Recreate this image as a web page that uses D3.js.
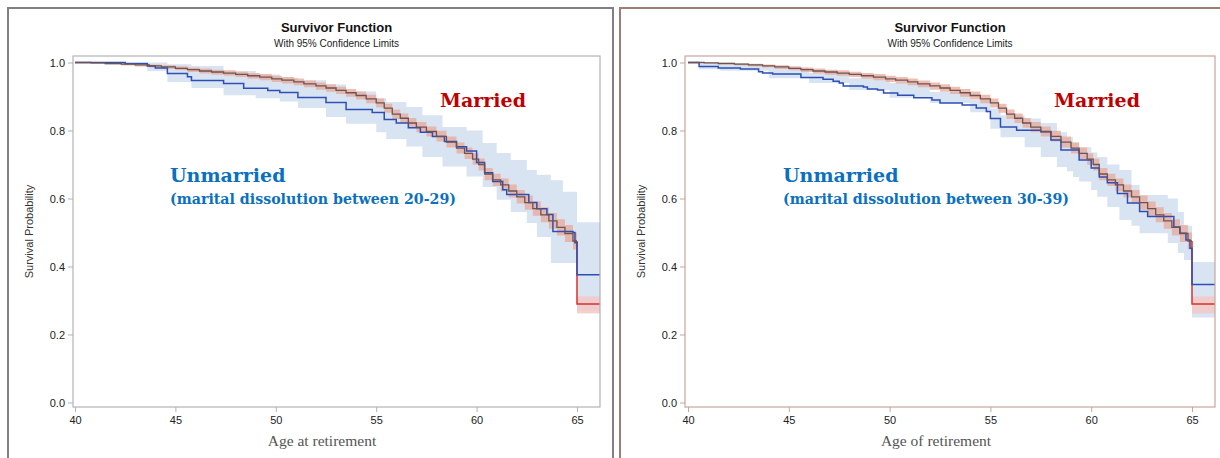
<!DOCTYPE html>
<html>
<head>
<meta charset="utf-8">
<script src="https://cdn.jsdelivr.net/npm/d3@7"></script>
<style>
  body { margin: 0; background: #fff; }
  svg { display: block; }
</style>
</head>
<body>
<svg id="chart" width="1220" height="458"></svg>
<script>
const ageTicks = [40, 45, 50, 55, 60, 65];
const survTicks = [0, 0.2, 0.4, 0.6, 0.8, 1.0];
const AGE_END = 66.15;

// married group, same in both panels: [age, survival, lower, upper]
const married = [
  [40.0, 1.000, 0.998, 1.000], [40.8, 0.999, 0.996, 1.000], [41.5, 0.997, 0.994, 0.999],
  [42.3, 0.995, 0.991, 0.998], [43.0, 0.993, 0.988, 0.996], [43.7, 0.990, 0.985, 0.994],
  [44.3, 0.987, 0.981, 0.992], [45.0, 0.983, 0.977, 0.989], [45.6, 0.979, 0.972, 0.985],
  [46.2, 0.975, 0.968, 0.982], [46.8, 0.972, 0.964, 0.979], [47.4, 0.969, 0.961, 0.977],
  [48.0, 0.965, 0.957, 0.973], [48.6, 0.961, 0.952, 0.969], [49.2, 0.957, 0.948, 0.966],
  [49.8, 0.952, 0.943, 0.961], [50.3, 0.948, 0.938, 0.957], [50.9, 0.943, 0.933, 0.953],
  [51.4, 0.937, 0.927, 0.947], [52.0, 0.931, 0.920, 0.941], [52.5, 0.925, 0.914, 0.936],
  [53.0, 0.918, 0.907, 0.929], [53.5, 0.911, 0.899, 0.922], [54.0, 0.903, 0.891, 0.915],
  [54.5, 0.893, 0.880, 0.905], [55.0, 0.881, 0.868, 0.894], [55.4, 0.866, 0.852, 0.879],
  [55.8, 0.848, 0.834, 0.862], [56.2, 0.836, 0.822, 0.850], [56.6, 0.822, 0.808, 0.837],
  [57.0, 0.810, 0.795, 0.825], [57.5, 0.797, 0.782, 0.812], [58.0, 0.783, 0.768, 0.799],
  [58.5, 0.766, 0.750, 0.782], [59.0, 0.748, 0.732, 0.765], [59.4, 0.733, 0.716, 0.750],
  [59.8, 0.716, 0.699, 0.733], [60.1, 0.700, 0.682, 0.718], [60.4, 0.672, 0.654, 0.690],
  [60.8, 0.655, 0.637, 0.673], [61.2, 0.640, 0.621, 0.659], [61.6, 0.622, 0.603, 0.641],
  [62.0, 0.605, 0.585, 0.625], [62.4, 0.588, 0.567, 0.609], [62.8, 0.570, 0.549, 0.591],
  [63.2, 0.552, 0.530, 0.574], [63.6, 0.534, 0.511, 0.557], [64.0, 0.515, 0.491, 0.539],
  [64.4, 0.497, 0.472, 0.522], [64.8, 0.475, 0.450, 0.500], [65.0, 0.290, 0.262, 0.312],
  [AGE_END, 0.290, 0.262, 0.312]
];

// unmarried, marital dissolution between 20-29: [age, survival]
const unmarried2029 = [
  [40.0, 1.000], [42.5, 0.997], [43.6, 0.990], [44.0, 0.984], [44.6, 0.968],
  [45.6, 0.958], [45.8, 0.947], [47.4, 0.938], [48.4, 0.924], [49.6, 0.918],
  [50.2, 0.912], [51.1, 0.897], [52.5, 0.882], [53.5, 0.862], [54.8, 0.853],
  [55.4, 0.832], [56.0, 0.822], [56.6, 0.808], [57.2, 0.795], [57.8, 0.782],
  [58.4, 0.768], [59.0, 0.752], [59.5, 0.740], [60.0, 0.706], [60.4, 0.676],
  [60.8, 0.650], [61.3, 0.626], [61.5, 0.612], [62.6, 0.588], [63.0, 0.570],
  [63.5, 0.553], [63.8, 0.503], [64.8, 0.500], [64.9, 0.470], [65.0, 0.376],
  [AGE_END, 0.376]
];
// [age, lower, upper]
const band2029 = [
  [40.0, 1.000, 1.000], [43.6, 0.975, 1.000], [44.6, 0.943, 0.995], [45.8, 0.925, 0.990],
  [47.4, 0.904, 0.975], [49.0, 0.895, 0.965], [50.2, 0.885, 0.955], [51.1, 0.866, 0.948],
  [52.5, 0.840, 0.935], [53.5, 0.820, 0.915], [55.0, 0.795, 0.895], [55.5, 0.775, 0.884],
  [56.5, 0.753, 0.869], [57.3, 0.722, 0.845], [58.3, 0.694, 0.810], [59.5, 0.665, 0.800],
  [60.3, 0.634, 0.763], [61.0, 0.596, 0.734], [61.7, 0.560, 0.713], [62.5, 0.528, 0.684],
  [63.0, 0.487, 0.670], [63.7, 0.410, 0.654], [64.3, 0.410, 0.620], [65.0, 0.270, 0.530],
  [AGE_END, 0.270, 0.530]
];

// unmarried, marital dissolution between 30-39
const unmarried3039 = [
  [40.0, 1.000], [40.55, 0.988], [41.5, 0.984], [42.6, 0.981], [43.5, 0.973],
  [43.7, 0.969], [44.2, 0.966], [45.6, 0.956], [46.7, 0.951], [47.2, 0.945],
  [47.5, 0.940], [47.7, 0.931], [48.7, 0.928], [48.9, 0.922], [49.4, 0.919],
  [49.7, 0.910], [50.4, 0.904], [51.2, 0.896], [52.1, 0.890], [52.5, 0.881],
  [53.6, 0.875], [54.3, 0.866], [54.8, 0.856], [55.0, 0.835], [55.5, 0.810],
  [56.3, 0.801], [57.5, 0.796], [58.0, 0.772], [58.5, 0.743], [59.4, 0.713],
  [60.0, 0.690], [60.4, 0.663], [60.8, 0.646], [61.3, 0.615], [61.8, 0.587],
  [62.4, 0.562], [62.8, 0.547], [64.1, 0.516], [64.4, 0.498], [64.7, 0.478],
  [64.9, 0.454], [65.0, 0.347], [AGE_END, 0.347]
];
const band3039 = [
  [40.0, 1.000, 1.000], [40.55, 0.980, 0.996], [41.6, 0.976, 0.993], [44.0, 0.954, 0.985],
  [46.0, 0.940, 0.970], [48.0, 0.919, 0.954], [50.0, 0.896, 0.940], [52.0, 0.881, 0.913],
  [54.0, 0.854, 0.890], [55.0, 0.805, 0.865], [55.5, 0.780, 0.845], [56.7, 0.751, 0.835],
  [57.5, 0.722, 0.822], [58.3, 0.693, 0.795], [58.8, 0.680, 0.780], [59.1, 0.663, 0.765],
  [59.4, 0.650, 0.751], [60.0, 0.625, 0.735], [60.3, 0.605, 0.722], [60.8, 0.575, 0.700],
  [61.4, 0.537, 0.684], [62.0, 0.520, 0.640], [62.4, 0.498, 0.610], [63.8, 0.469, 0.600],
  [64.3, 0.440, 0.560], [64.6, 0.419, 0.520], [65.0, 0.250, 0.413], [AGE_END, 0.250, 0.413]
];

const panels = [
  {
    frame: { x: 8, y: 8, w: 605, h: 470, color: "#808080" },
    plot: { left: 73, right: 600, top: 56, bottom: 407 },
    range: [75, 577],
    axisColor: "#b3b3b3",
    line: unmarried2029,
    band: band2029,
    xLabel: "Age at retirement",
    groupText: "(marital dissolution between 20-29)",
    marriedX: 440,
    unmarriedX: 170,
    yLabelX: 29
  },
  {
    frame: { x: 620, y: 8, w: 610, h: 470, color: "#9d7f72" },
    plot: { left: 685, right: 1215, top: 56, bottom: 407 },
    range: [688, 1192],
    axisColor: "#c9a59c",
    line: unmarried3039,
    band: band3039,
    xLabel: "Age of retirement",
    groupText: "(marital dissolution between 30-39)",
    marriedX: 1054,
    unmarriedX: 783,
    yLabelX: 641
  }
];

const svg = d3.select("#chart");
const y = d3.scaleLinear().domain([0, 1]).range([402.5, 62.5]);
const SANS = "'Liberation Sans', Arial, sans-serif";
const SERIF = "'DejaVu Serif', serif";

panels.forEach((p, i) => {
  const x = d3.scaleLinear().domain([40, 65]).range(p.range);
  const g = svg.append("g");
  const clipId = "clip" + i;

  g.append("rect")
    .attr("x", p.frame.x).attr("y", p.frame.y)
    .attr("width", p.frame.w).attr("height", p.frame.h)
    .attr("fill", "none").attr("stroke", p.frame.color).attr("stroke-width", 2);

  g.append("clipPath").attr("id", clipId)
    .append("rect")
    .attr("x", p.plot.left).attr("y", p.plot.top)
    .attr("width", p.plot.right - p.plot.left)
    .attr("height", p.plot.bottom - p.plot.top);

  const cx = (p.plot.left + p.plot.right) / 2;
  g.append("text").attr("x", cx).attr("y", 32)
    .attr("text-anchor", "middle").attr("font-family", SANS)
    .attr("font-weight", "bold").attr("font-size", 13).attr("fill", "#111")
    .text("Survivor Function");
  g.append("text").attr("x", cx).attr("y", 47)
    .attr("text-anchor", "middle").attr("font-family", SANS)
    .attr("font-size", 10).attr("fill", "#222")
    .text("With 95% Confidence Limits");

  const area = d3.area()
    .x(d => x(d[0])).y0(d => y(d[1])).y1(d => y(d[2]))
    .curve(d3.curveStepAfter);
  const mArea = d3.area()
    .x(d => x(d[0])).y0(d => y(d[2])).y1(d => y(d[3]))
    .curve(d3.curveStepAfter);
  const line = d3.line()
    .x(d => x(d[0])).y(d => y(d[1]))
    .curve(d3.curveStepAfter);

  const plot = g.append("g").attr("clip-path", `url(#${clipId})`);

  plot.append("path").datum(p.band)
    .attr("d", area).attr("fill", "#d9e4f3");

  const mMain = married.filter(d => d[0] < 65);
  const mTail = married.filter(d => d[0] >= 65);
  plot.append("path").datum(mMain.concat([[65, ...mMain[mMain.length - 1].slice(1)]]))
    .attr("d", mArea).attr("fill", "#e9a897").attr("fill-opacity", 0.75);
  plot.append("path").datum(mTail)
    .attr("d", mArea).attr("fill", "#f2c9c4").attr("fill-opacity", 0.85);

  const lastM = mMain[mMain.length - 1];
  plot.append("path").datum([[65, lastM[1]], ...mTail])
    .attr("d", line).attr("fill", "none")
    .attr("stroke", "#d9302c").attr("stroke-width", 1.5);

  plot.append("path").datum(p.line)
    .attr("d", line).attr("fill", "none")
    .attr("stroke", "#2d4fb5").attr("stroke-width", 1.5);

  plot.append("path").datum(mMain.concat([[65, lastM[1]]]))
    .attr("d", line).attr("fill", "none")
    .attr("stroke", "#6a5454").attr("stroke-width", 1.3);

  g.append("rect")
    .attr("x", p.plot.left).attr("y", p.plot.top)
    .attr("width", p.plot.right - p.plot.left)
    .attr("height", p.plot.bottom - p.plot.top)
    .attr("fill", "none").attr("stroke", p.axisColor).attr("stroke-width", 1.2);

  const xAxis = g.append("g")
    .attr("transform", `translate(0,${p.plot.bottom})`)
    .call(d3.axisBottom(x).tickValues(ageTicks).tickSize(5).tickSizeOuter(0).tickPadding(4));
  const yAxis = g.append("g")
    .attr("transform", `translate(${p.plot.left},0)`)
    .call(d3.axisLeft(y).tickValues(survTicks).tickFormat(d3.format(".1f"))
      .tickSize(5).tickSizeOuter(0).tickPadding(3));
  [xAxis, yAxis].forEach(a => {
    a.select(".domain").remove();
    a.selectAll(".tick line").attr("stroke", p.axisColor);
    a.selectAll(".tick text").attr("font-family", SANS)
      .attr("font-size", 11).attr("fill", "#222");
  });

  g.append("text")
    .attr("transform", `translate(${p.yLabelX},${(p.plot.top + p.plot.bottom) / 2}) rotate(-90)`)
    .attr("text-anchor", "middle").attr("dy", "0.35em")
    .attr("font-family", SANS).attr("font-size", 11).attr("fill", "#333")
    .text("Survival Probability");

  g.append("text").attr("x", x(52.5) - 4).attr("y", 446)
    .attr("text-anchor", "middle").attr("font-family", "'Liberation Serif', serif")
    .attr("font-size", 15.5).attr("fill", "#555")
    .text(p.xLabel);

  g.append("text").attr("x", p.marriedX).attr("y", 107)
    .attr("font-family", SERIF).attr("font-weight", "bold")
    .attr("font-size", 19).attr("fill", "#c00000")
    .text("Married");
  g.append("text").attr("x", p.unmarriedX).attr("y", 182)
    .attr("font-family", SERIF).attr("font-weight", "bold")
    .attr("font-size", 19).attr("fill", "#0b70c0")
    .text("Unmarried");
  g.append("text").attr("x", p.unmarriedX).attr("y", 204)
    .attr("font-family", SERIF).attr("font-weight", "bold")
    .attr("font-size", 14.2).attr("fill", "#0b70c0")
    .text(p.groupText);
});
</script>
</body>
</html>
